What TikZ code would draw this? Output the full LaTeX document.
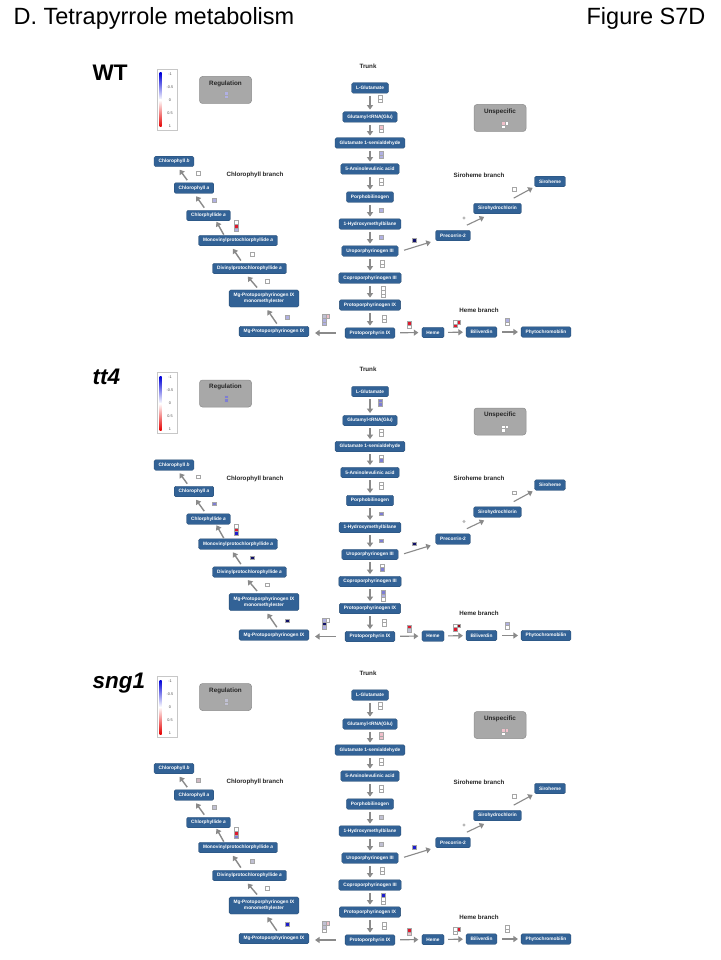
\documentclass[tikz,border=0pt]{standalone}
\usepackage{fontspec}
\setmainfont{Liberation Sans}
\usetikzlibrary{arrows.meta}

\definecolor{pathblue}{RGB}{50,98,150}
\definecolor{arrowgrey}{RGB}{138,138,138}
\definecolor{boxgrey}{RGB}{168,168,168}
\definecolor{lowblue}{RGB}{176,176,226}
\definecolor{midblue}{RGB}{126,126,212}
\definecolor{deepblue}{RGB}{30,30,205}
\definecolor{navyblue}{RGB}{15,15,105}
\definecolor{hotred}{RGB}{222,25,45}
\definecolor{darkred}{RGB}{150,10,25}
\definecolor{palered}{RGB}{240,192,202}
\definecolor{greyblue}{RGB}{192,192,210}
\definecolor{greypink}{RGB}{208,186,196}

\tikzset{
  enzyme/.style={rectangle, rounded corners=1.5pt, fill=pathblue, draw=pathblue!75!black,
    line width=0.3pt, text=white, font=\fontsize{4.8}{5.6}\selectfont\bfseries,
    inner xsep=4.5pt, inner ysep=0pt, minimum height=10.5pt, align=center},
  flow/.style={draw=arrowgrey, line width=1.4pt, -{Triangle[length=4.5pt,width=6pt]},
    shorten <=2.5pt, shorten >=2pt},
  diag/.style={flow, shorten <=3pt, shorten >=3.5pt},
  hflow/.style={flow, line width=1.1pt, shorten <=5pt, shorten >=3.5pt},
  branch/.style={font=\fontsize{6.2}{7}\selectfont\bfseries, text=black!85},
  groupbox/.style={rectangle, rounded corners=3pt, fill=boxgrey, draw=black!45,
    line width=0.5pt, minimum width=52pt, minimum height=27pt},
  legend/.style={font=\fontsize{3.8}{4}\selectfont, text=black!70},
  panellabel/.style={anchor=base west, font=\fontsize{22.5}{26}\selectfont},
  cell/.style={draw=black!35, line width=0.35pt},
}

% column of change cells, top centre at (#1,#2)
\newcommand{\ind}[3]{\foreach \c [count=\i from 0] in {#3}
  {\filldraw[cell, fill=\c] ({#1-1.8},{#2+3.6*\i}) rectangle ++(3.6,3.6);}}

\newcommand{\tetrapanel}[1]{%
  \node[panellabel] (tag) at (89,81) {#1};

  % colour key
  \draw[black!22, line width=0.4pt] (157,69) rectangle (177,130);
  \shade[top color=blue!85!black, bottom color=white] (159.6,73) rectangle (161.6,100);
  \shade[top color=white, bottom color=red!90!black] (159.6,100) rectangle (161.6,127);
  \foreach \v/\yy in {-1/74,-0.5/87,0/100,0.5/113,1/126}
    \node[legend] at (170,\yy) {\v};

  \node[groupbox] (regul) at (225.5,90) {};
  \node[branch, font=\fontsize{6.3}{7}\selectfont\bfseries] at (225.5,83.5) {Regulation};
  \node[groupbox] (unspec) at (500,118) {};
  \node[branch, font=\fontsize{6.3}{7}\selectfont\bfseries] at (500,111.5) {Unspecific};

  \path
  (368,66)     node[branch]            (trunk)  {Trunk}
  (223,175)    node[branch,anchor=west](chlbr)  {Chlorophyll branch}
  (479,175)    node[branch]            (sirobr) {Siroheme branch}
  (479,310)    node[branch]            (hemebr) {Heme branch}

  (370,88)     node[enzyme](glu)      {L-Glutamate}
  (370,117)    node[enzyme](trna)     {Glutamyl-tRNA(Glu)}
  (370,143)    node[enzyme](gsa)      {Glutamate 1-semialdehyde}
  (370,169)    node[enzyme](ala)      {5-Aminolevulinic acid}
  (370,197)    node[enzyme](pbg)      {Porphobilinogen}
  (370,224)    node[enzyme](hmb)      {1-Hydroxymethylbilane}
  (370,251)    node[enzyme](uro)      {Uroporphyrinogen III}
  (370,278)    node[enzyme](copro)    {Coproporphyrinogen III}
  (370,305)    node[enzyme](protogen) {Protoporphyrinogen IX}
  (370,333)    node[enzyme](proto)    {Protoporphyrin IX}

  (174,161.5)  node[enzyme](chlb)     {Chlorophyll \textit{b}}
  (194,188)    node[enzyme](chla)     {Chlorophyll \textit{a}}
  (208.5,215.5) node[enzyme](chlide)  {Chlorphyllide \textit{a}}
  (238,240.5)  node[enzyme](mono)     {Monovinylprotochlorphyllide \textit{a}}
  (249.5,268.5) node[enzyme](divinyl) {Divinylprotochlorophyllide \textit{a}}
  (264,298.5)  node[enzyme,inner ysep=3.5pt](mgme) {Mg-Protoporphyrinogen IX\\monomethylester}
  (274,331.5)  node[enzyme](mgp)      {Mg-Protoporphyrinogen IX}

  (453,235.5)  node[enzyme](prec)     {Precorrin-2}
  (497.5,208.5) node[enzyme](siroh)   {Sirohydrochlorin}
  (550,181.5)  node[enzyme](sirohm)   {Siroheme}

  (433,332.5)  node[enzyme](heme)     {Heme}
  (481.5,332)  node[enzyme](bili)     {Biliverdin}
  (546,332)    node[enzyme](phyto)    {Phytochromobilin}
  ;

  \foreach \a/\b in {glu/trna,trna/gsa,gsa/ala,ala/pbg,pbg/hmb,hmb/uro,uro/copro,copro/protogen,protogen/proto}
    \draw[flow] (\a) -- (\b);

  \draw[diag] ([xshift=4.5pt]mgp.north) -- ([xshift=1.5pt]mgme.south);
  \draw[diag] ([xshift=-5pt]mgme.north) -- ([xshift=-4pt]divinyl.south);
  \draw[diag] ([xshift=-7pt]divinyl.north) -- ([xshift=-7pt]mono.south);
  \draw[diag, shorten <=0.5pt, shorten >=1pt] ([xshift=-14pt]mono.north) -- ([xshift=7.5pt]chlide.south);
  \draw[diag] ([xshift=-2.5pt]chlide.north) -- (chla.south);
  \draw[diag] ([xshift=-5pt]chla.north) -- ([xshift=3.5pt]chlb.south);

  \draw[hflow, shorten <=9pt, shorten >=6pt] (proto.west) -- (mgp.east |- proto.west);
  \draw[hflow] (proto) -- (heme);
  \draw[hflow, shorten <=4pt, shorten >=3pt] (heme) -- (bili);
  \draw[hflow, shorten >=3pt] (bili) -- (phyto);

  \draw[flow, line width=1.1pt, shorten <=6pt, shorten >=5pt] ([yshift=-1pt]uro.east) -- ([yshift=-5pt]prec.west);
  \draw[flow, line width=1.1pt, shorten <=11.5pt, shorten >=7pt] ([xshift=3.5pt]prec.north) -- ([xshift=-7pt]siroh.south);
  \draw[flow, line width=1.1pt, shorten <=10.5pt, shorten >=2pt] ([xshift=7pt]siroh.north) -- (sirohm.south west);
  \fill[black!28] (464,218) circle (1.6pt);
}

\begin{document}
\begin{tikzpicture}[x=1pt,y=-1pt]
  \path[use as bounding box, fill=white] (0,0) rectangle (720,960);

  \node[anchor=base west, font=\fontsize{23.5}{27}\selectfont] (title) at (10,25) {D. Tetrapyrrole metabolism};
  \node[anchor=base east, font=\fontsize{23.5}{27}\selectfont] (figno) at (709,25) {Figure S7D};

  % WT
  \begin{scope}[name prefix=wt-]
    \tetrapanel{\bfseries WT}
    \ind{226}{91.4}{lowblue,lowblue}
    \ind{380}{95.4}{white,white}
    \ind{381}{125.4}{palered,white}
    \ind{381}{151.4}{lowblue,lowblue}
    \ind{381}{178.4}{white,white}
    \ind{381}{208.2}{lowblue}
    \ind{381}{235.2}{lowblue}
    \ind{382}{260.4}{white,white}
    \ind{383}{286.6}{white,white,white}
    \ind{384}{315.4}{white,white}
    \ind{324}{314.6}{greyblue,lowblue,lowblue} \ind{327.6}{314.6}{palered}
    \ind{409}{321.4}{hotred,white}
    \ind{455}{320.4}{white,hotred} \ind{458.6}{320.4}{hotred}
    \ind{507}{318.4}{lowblue,white}
    \ind{287}{315.2}{lowblue}
    \ind{267}{279.2}{white}
    \ind{252}{252.2}{white}
    \ind{236}{220.6}{white,hotred,lowblue}
    \ind{214}{198.2}{lowblue}
    \ind{198}{171.2}{white}
    \ind{414}{238.2}{navyblue}
    \ind{514}{187.2}{white}
    \ind{503}{121.4}{palered,white} \ind{506.6}{121.4}{white}
  \end{scope}

  % tt4
  \begin{scope}[yshift=-303.5pt, name prefix=tt-]
    \tetrapanel{\bfseries\itshape tt4}
    \ind{226}{91.4}{midblue,midblue}
    \ind{380}{95.4}{midblue,midblue}
    \ind{381}{125.4}{white,white}
    \ind{381}{151.4}{white,midblue}
    \ind{381}{178.4}{white,white}
    \ind{381}{208.2}{midblue}
    \ind{381}{235.2}{midblue}
    \ind{382}{260.4}{white,midblue}
    \ind{383}{286.6}{midblue,lowblue,white}
    \ind{384}{315.4}{white,white}
    \ind{324}{314.6}{lowblue,navyblue,lowblue} \ind{327.6}{314.6}{white}
    \ind{409}{321.4}{hotred,greyblue}
    \ind{455}{320.4}{white,hotred} \ind{458.6}{320.4}{darkred}
    \ind{507}{318.4}{lowblue,white}
    \ind{287}{315.2}{navyblue}
    \ind{267}{279.2}{white}
    \ind{252}{252.2}{navyblue}
    \ind{236}{220.6}{white,hotred,deepblue}
    \ind{214}{198.2}{midblue}
    \ind{198}{171.2}{white}
    \ind{414}{238.2}{navyblue}
    \ind{514}{187.2}{white}
    \ind{503}{121.4}{white,white} \ind{506.6}{121.4}{white}
  \end{scope}

  % sng1
  \begin{scope}[yshift=-607pt, name prefix=sn-]
    \tetrapanel{\bfseries\itshape sng1}
    \ind{226}{91.4}{greyblue,greyblue}
    \ind{380}{95.4}{white,white}
    \ind{381}{125.4}{palered,palered}
    \ind{381}{151.4}{white,white}
    \ind{381}{178.4}{white,white}
    \ind{381}{208.2}{greyblue}
    \ind{381}{235.2}{greyblue}
    \ind{382}{260.4}{white,white}
    \ind{383}{286.6}{deepblue,white,white}
    \ind{384}{315.4}{white,white}
    \ind{324}{314.6}{greyblue,greyblue,white} \ind{327.6}{314.6}{palered}
    \ind{409}{321.4}{hotred,palered}
    \ind{455}{320.4}{white,white} \ind{458.6}{320.4}{hotred}
    \ind{507}{318.4}{white,white}
    \ind{287}{315.2}{deepblue}
    \ind{267}{279.2}{white}
    \ind{252}{252.2}{greyblue}
    \ind{236}{220.6}{white,hotred,midblue}
    \ind{214}{198.2}{greyblue}
    \ind{198}{171.2}{greypink}
    \ind{414}{238.2}{deepblue}
    \ind{514}{187.2}{white}
    \ind{503}{121.4}{palered,white} \ind{506.6}{121.4}{palered}
  \end{scope}
\end{tikzpicture}
\end{document}
